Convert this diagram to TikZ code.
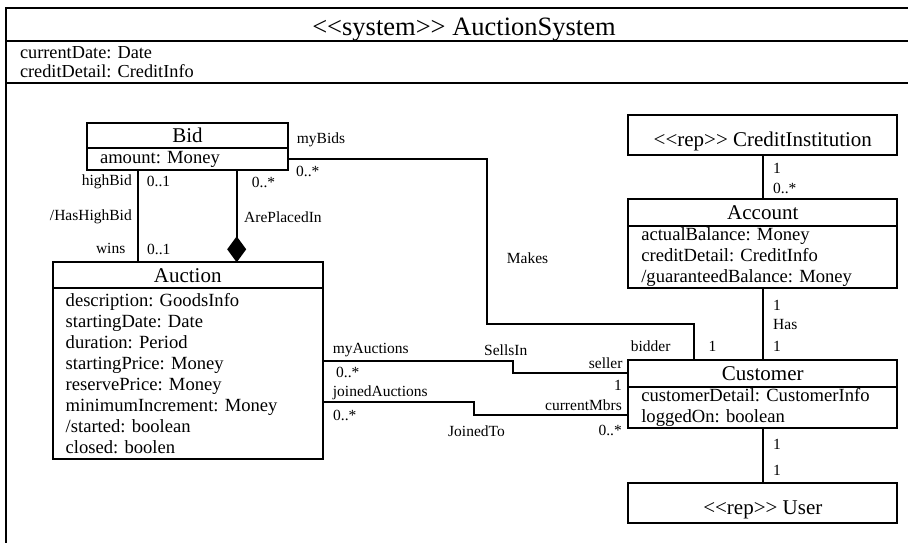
\documentclass[tikz,border=0pt]{standalone}
\usepackage{fontspec}
\setmainfont{Liberation Serif}[Ligatures=TeXOff]
\usepackage{tikz}
\usetikzlibrary{arrows.meta, positioning, calc}
\frenchspacing

\begin{document}
\begin{tikzpicture}[x=1pt, y=-1pt,
  cname/.style={rectangle, draw, line width=1.8pt, inner sep=0pt, outer sep=0pt,
                minimum height=26pt, font=\fontsize{21}{24}\selectfont},
  cattr/.style={rectangle, draw, line width=1.8pt, inner xsep=13pt, outer sep=0pt,
                inner ysep=0pt, align=left, font=\fontsize{18.6}{21}\selectfont},
  repbox/.style={rectangle, draw, line width=1.8pt, outer sep=0pt, minimum width=269pt,
                 minimum height=40pt, text height=24pt, text depth=2pt,
                 font=\fontsize{21}{24}\selectfont},
  assoc/.style={line width=1.8pt},
  comp/.style={line width=1.8pt, -{Diamond[length=26pt, width=19pt]}},
  lbl/.style={inner sep=0pt, font=\fontsize{15.5}{18}\selectfont},
]
  \useasboundingbox (0,0) rectangle (908,542);
  \clip (0,0) rectangle (908,542);

  % system frame
  \node[cname, anchor=north west, minimum width=916pt, minimum height=33pt,
        text height=22pt, text depth=1pt,
        font=\fontsize{26.5}{30}\selectfont] (sysname) at (6,8) {<<system>> AuctionSystem};
  \node[cattr, below=0pt of sysname, text width=888pt, inner xsep=14pt, minimum height=42pt,
        font=\fontsize{18.3}{19.5}\selectfont] (sysattr) {currentDate: Date\\creditDetail: CreditInfo};
  \node[rectangle, draw, line width=1.8pt, outer sep=0pt, below=0pt of sysattr, minimum width=916pt,
        minimum height=480pt] (sysbody) {};

  % classes
  \node[cname, anchor=north west, minimum width=201pt, minimum height=25pt] (bidname) at (87,123) {Bid};
  \node[cattr, below=0pt of bidname, text width=175pt, minimum height=22pt] (bidattr) {amount: Money};

  \node[cname, anchor=north west, minimum width=270pt] (auctname) at (52.7,262.3) {Auction};
  \node[cattr, below=0pt of auctname, text width=244pt, minimum height=170.7pt] (auctattr)
    {description: GoodsInfo\\startingDate: Date\\duration: Period\\startingPrice: Money\\
     reservePrice: Money\\minimumIncrement: Money\\/started: boolean\\closed: boolen};

  \node[repbox, anchor=north west] (credinst) at (628.3,115) {<<rep>> CreditInstitution};
  \node[cname, below=44.3pt of credinst, minimum width=269pt, minimum height=26.4pt] (acctname) {Account};
  \node[cattr, below=0pt of acctname, text width=243pt, minimum height=62pt] (acctattr)
    {actualBalance: Money\\creditDetail: CreditInfo\\/guaranteedBalance: Money};

  \node[cname, below=72.3pt of acctattr, minimum width=269pt, minimum height=26.7pt] (custname) {Customer};
  \node[cattr, below=0pt of custname, text width=243pt, minimum height=41.6pt] (custattr)
    {customerDetail: CustomerInfo\\loggedOn: boolean};

  \node[repbox, below=54.7pt of custattr] (user) {<<rep>> User};

  % associations
  \coordinate (hbx) at (137.7,0);
  \coordinate (apx) at (236.7,0);
  \coordinate (mkA) at (486.7,324.3);
  \coordinate (mkB) at (694.3,0);
  \coordinate (sellsA) at (0,360.7);
  \coordinate (sellsB) at (512.7,0);
  \coordinate (joinA) at (0,402);
  \coordinate (joinB) at (474.3,415.3);

  \draw[assoc] (bidattr.south -| hbx) -- (auctname.north -| hbx);
  \draw[comp] (bidattr.south -| apx) -- (auctname.north -| apx);
  \draw[assoc] (bidattr.east) -| (mkA) -| (custname.north -| mkB);
  \draw[assoc] (auctattr.east |- sellsA) -| (sellsB |- custname.west) -- (custname.west);
  \draw[assoc] (auctattr.east |- joinA) -| (joinB) -- (custattr.west |- joinB);
  \draw[assoc] (credinst.south) -- (acctname.north);
  \draw[assoc] (acctattr.south) -- (custname.north);
  \draw[assoc] (custattr.south) -- (user.north);

  % role names and multiplicities
  \node[lbl, anchor=east] (hbrole) at (132,182) {highBid};
  \node[lbl, anchor=west] (hbmul) at (146.7,181.5) {0..1};
  \node[lbl, anchor=east] (hbname) at (132,217) {/HasHighBid};
  \node[lbl, anchor=east] (winsrole) at (125.5,248.5) {wins};
  \node[lbl, anchor=west] (winsmul) at (147,249) {0..1};
  \node[lbl, anchor=west] (apmul) at (251.7,182.7) {0..*};
  \node[lbl, anchor=west] (apname) at (244,217) {ArePlacedIn};

  \node[lbl, anchor=west] (mybids) at (296.7,140) {myBids};
  \node[lbl, anchor=west] (mybidsmul) at (296,171.7) {0..*};
  \node[lbl, anchor=west] (makes) at (506.7,258) {Makes};
  \node[lbl, anchor=west] (bidder) at (630.7,346) {bidder};
  \node[lbl, anchor=west] (biddermul) at (708.3,346) {1};

  \node[lbl, anchor=west] (myauct) at (332.7,350) {myAuctions};
  \node[lbl, anchor=west] (sellsin) at (484,350) {SellsIn};
  \node[lbl, anchor=east] (seller) at (622.7,362.7) {seller};
  \node[lbl, anchor=west] (myauctmul) at (336,372.7) {0..*};
  \node[lbl, anchor=east] (sellermul) at (622,385.7) {1};

  \node[lbl, anchor=west] (joinauct) at (332.7,392.7) {joinedAuctions};
  \node[lbl, anchor=west] (joinauctmul) at (333,415) {0..*};
  \node[lbl, anchor=east] (curmbrs) at (622,405) {currentMbrs};
  \node[lbl, anchor=west] (joinedto) at (448,430.7) {JoinedTo};
  \node[lbl, anchor=east] (curmbrsmul) at (622,430) {0..*};

  \node[lbl, anchor=west] (cimul) at (773,168.3) {1};
  \node[lbl, anchor=west] (acctmul) at (773,188.3) {0..*};
  \node[lbl, anchor=west] (hasmula) at (773,305) {1};
  \node[lbl, anchor=west] (has) at (773,324.3) {Has};
  \node[lbl, anchor=west] (hasmulb) at (773,346.7) {1};
  \node[lbl, anchor=west] (usermula) at (773,444) {1};
  \node[lbl, anchor=west] (usermulb) at (773,470) {1};
\end{tikzpicture}
\end{document}
